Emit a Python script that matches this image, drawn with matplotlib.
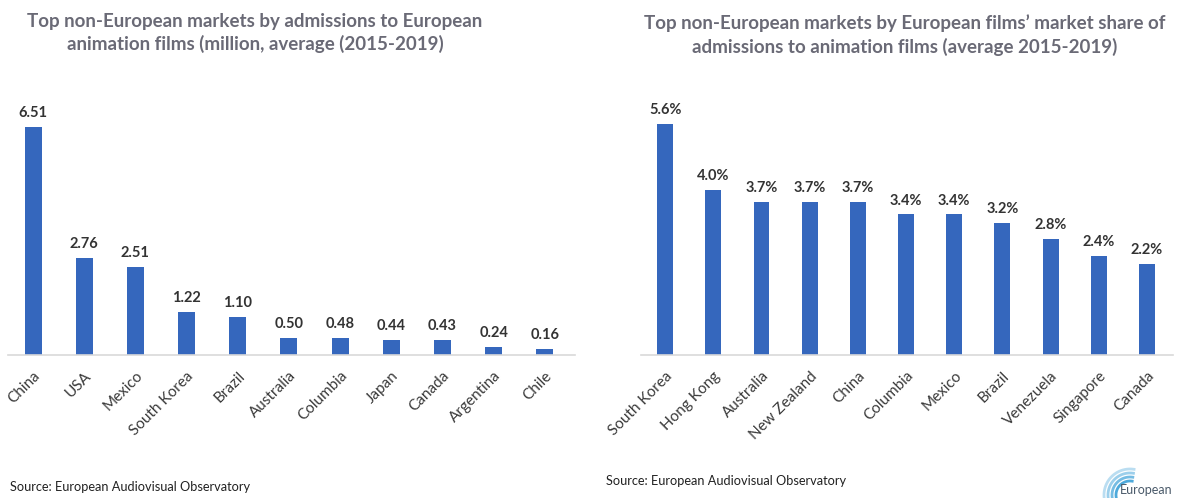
import matplotlib
matplotlib.use("Agg")
import matplotlib.pyplot as plt
import numpy as np

plt.rcParams['font.family'] = ['Lato', 'DejaVu Sans']

# left chart: admissions (million)
adm_countries = ["China", "USA", "Mexico", "South Korea", "Brazil", "Australia",
                 "Columbia", "Japan", "Canada", "Argentina", "Chile"]
adm_values = [6.51, 2.76, 2.51, 1.22, 1.10, 0.50, 0.48, 0.44, 0.43, 0.24, 0.16]

# right chart: market share (%)
share_countries = ["South Korea", "Hong Kong", "Australia", "New Zealand", "China",
                   "Columbia", "Mexico", "Brazil", "Venezuela", "Singapore", "Canada"]
share_values = [5.6, 4.0, 3.7, 3.7, 3.7, 3.4, 3.4, 3.2, 2.8, 2.4, 2.2]

BAR = "#3567bd"
TITLE_C = "#6a6a76"
TEXT_C = "#3a3a3a"

W, H = 1189, 498
fig = plt.figure(figsize=(W/100, H/100), dpi=100)

def px(x0, y_base, x1, y_top):
	return [x0/W, (H-y_base)/H, (x1-x0)/W, (y_base-y_top)/H]

def draw(ax, names, vals, fmt, xlim, ylim):
	x = np.arange(len(vals))
	ax.bar(x, vals, width=0.33, color=BAR)
	for xi, v in zip(x, vals):
		ax.annotate(fmt.format(v), (xi, v), xytext=(0, 5), textcoords="offset points",
					ha="center", va="bottom", fontsize=10.5, fontweight="bold", color="#333333")
	ax.set_xlim(*xlim)
	ax.set_ylim(*ylim)
	ax.set_xticks(x)
	ax.set_xticklabels(names, rotation=45, ha="right", rotation_mode="anchor",
					   fontsize=11, color=TEXT_C)
	ax.tick_params(axis="x", length=0, pad=10)
	ax.set_yticks([])
	for s in ["top", "right", "left"]:
		ax.spines[s].set_visible(False)
	ax.spines["bottom"].set_color("#d9d9d9")
	ax.spines["bottom"].set_linewidth(1.2)

ax1 = fig.add_axes(px(8, 355, 575, 110))
draw(ax1, adm_countries, adm_values, "{:.2f}", (-0.49, 10.59), (0, 7.0))

ax2 = fig.add_axes(px(641, 355, 1173, 107))
draw(ax2, share_countries, share_values, "{:.1f}%", (-0.5, 10.54), (0, 6.0))

fig.text(255/W, 1-33/H, "Top non-European markets by admissions to European\nanimation films (million, average (2015-2019)",
		 ha="center", va="center", fontsize=13.5, fontweight="bold", color=TITLE_C, linespacing=1.35)
fig.text(905/W, 1-35/H, "Top non-European markets by European films\u2019 market share of\nadmissions to animation films (average 2015-2019)",
		 ha="center", va="center", fontsize=13.5, fontweight="bold", color=TITLE_C, linespacing=1.35)

fig.text(10/W, 1-487/H, "Source: European Audiovisual Observatory", ha="left", va="center",
		 fontsize=9.2, color="#222222")
fig.text(606/W, 1-481/H, "Source: European Audiovisual Observatory", ha="left", va="center",
		 fontsize=9.2, color="#222222")

# logo hint
fig.text(1120/W, 1-490/H, "European", ha="left", va="center", fontsize=9, color="#4a5a6a")
for r, a in zip([14, 18, 22, 26], [0.9, 0.7, 0.5, 0.35]):
	t = np.linspace(np.pi*0.45, np.pi*1.05, 30)
	fig.add_artist(plt.Line2D((1130 + r*np.cos(t))/W, (H-495 + r*np.sin(t))/H,
							  color="#3aa0d8", lw=2, alpha=a, transform=fig.transFigure))

fig.savefig("out.png", dpi=100)
